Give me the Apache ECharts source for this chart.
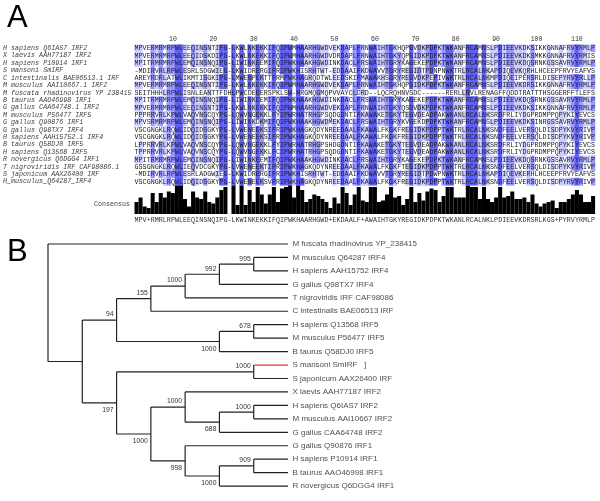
<!DOCTYPE html>
<html><head><meta charset="utf-8">
<script src="https://cdn.jsdelivr.net/npm/echarts@6/dist/echarts.min.js"></script>
<style>html,body{margin:0;padding:0;background:#fff}#c{width:600px;height:501px}</style>
</head><body><div id="c"></div>
<script>
// ---------- Panel A data ----------
const seqNames = [
  'H sapiens Q6IAS7 IRF2','X laevis AAH77187 IRF2','H sapiens P10914 IRF1','S mansoni SmIRF',
  'C intestinalis BAE06513.1 IRF','M musculus AAI10667.1 IRF2','M fuscata rhadinovirus YP 238415',
  'B taurus AAO46998 IRF1','G gallus CAA64748.1 IRF2','M musculus P56477 IRF5','G gallus Q90876 IRF1',
  'G gallus Q98TX7 IRF4','H sapiens AAH15752.1 IRF4','B taurus Q58DJ0 IRF5','H sapiens Q13568 IRF5',
  'R novergicus Q6DGG4 IRF1','T nigroviridis IRF CAF98086.1','S japonicum AAX26400 IRF','H_musculus_Q64287_IRF4'
];
const seqs = [
  'MPVERMRMRPWLEEQINSNTIPG'+'-'+'LKWLNKEKKIFQIPWMHAARHGWDVEKDAPLFRNWAIHTG'+'KHQPGVDKPDPKTWKANFRCAMNSLPDIEEVKDKSIKKGNNAFRVYRMLP',
  'MPVERMRMRPWLEEQIDSKDIPG'+'-'+'LKWLNKEKKIFQIPWMHAARHGWDVDRDAPLFRNWAIHTG'+'KYQPGIDKPDPKTWKANFRCAMNSLPDIEEVKDKSMKKGNNAFRVYRMIS',
  'MPITRMRMRPWLEMQINSNQIPG'+'-'+'LIWINKEEMIFQIPWKHAAKHGWDINKDACLFRSWAIHTG'+'RYKAGEKEPDPKTWKANFRCAMNSLPDIEEVKDQSRNKGSSAVRVYRMLP',
  '-MDIRVRLRPWLESRLSDGWIEG'+'-'+'LKWIDRERGIFRIPWKHISRHTWT-EDDAAIFKDWAVVTG'+'RYREGIDTPDNPNWKTRLRCALNKAPDIQEVKQRHLHCEEPFRVYEAFVS',
  'AREYRDRLATWLIKMTISGKIPG'+'-'+'LMWENPEKTTFRMPWKHAGRQDTWLEEDSKIFMAWAKHSG'+'RYREGVDKPEPIVWKTRLRCALNKMPDIQEIPERSRLDISEPYRVYRLLP',
  'MPVERMRMRPWLEEQINSNTIPG'+'-'+'LKWLNKEKKIFQIPWMHAARHGWDVEKDAPLFRNWAIHTG'+'KHQPGIDKPDPKTWKANFRCAMNSLPDIEEVKDRSIKKGNNAFRVYRMLP',
  'SEITHHHLRPWLISNLEANTTFD'+'H'+'LPWCDEEERSPKLSW-HRGMQGMQPVVAYCLDRD--LQCR'+'QHNVSDC------RERLLRVLRENAGFFQDDTRATTTHSGGERFFTLEFS',
  'MPITRMRMRPWLEMQINSNQIPG'+'-'+'LIWINKEEMIFQIPWKHAAKHGWDINKDACLFRSWAIHTG'+'RYKAGEKEPDPKTWKANFRCAMNSLPDIEEVKDQSRNKGSSAVRVYRMLP',
  'MPVERMRMRPWLEEQINSNTIPG'+'-'+'LKWLNKEKKIFQIPWMHAARHGWDVEKDAPLFRNWAIHTG'+'KYQSGVDKPDPKTWKANFRCAMNSLPDIEEVKDKSIKKGNNAFRVYRMLP',
  'PPPRRVRLKPWLVAQVNSCQYPG'+'-'+'LQWVNGEKKLFYIPWRHATRHGPSQDGDNTIFKAWAKETG'+'KYTEGVDEADPAKWKANLRCALNKSRDFRLIYDGPRDMPPQPYKIYEVCS',
  'MPVSRMRMRPWLEMQINSNQIPG'+'-'+'LIWINKDKMIFQIPWKHAAKHGWDMEKDACLFRSWAIHTG'+'RYKVGEKDPDPKTWKANFRCAMNSLPDIEEVKDKSINRGSSAVRVYRMLP',
  'VSCGNGKLRQWLIDQIDSGKYPG'+'-'+'LVWENEEKSIFRIPWKHAGKQDYNREEDAALFKAWALFKG'+'KFREGIDKPDPPTWKTRLRCALNKSNDFEELVERSQLDISDPYKVYRIVP',
  'VSCGNGKLRQWLIDQIDSGKYPG'+'-'+'LVWENEEKSIFRIPWKHAGKQDYNREEDAALFKAWALFKG'+'KFREGIDKPDPPTWKTRLRCALNKSNDFEELVERSQLDISDPYKVYRIVP',
  'LPPRRVRLKPWLVAQVNSCQYPG'+'-'+'LQWVNGEKKLFYIPWRHATRHGPSHDGDNTIFKAWAKETG'+'KYTEGVDEADPAKWKANLRCALNKSRDFRLIYDGPRDMPPQPYKIYEVCS',
  'TPPRRVRLKPWLVAQVNSCQYPG'+'-'+'LQWVNGEKKLFCIPWRHATRHGPSQDGDNTIFKAWAKETG'+'KYTEGVDEADPAKWKANLRCALNKSRDFRLIYDGPRDMPPQPYKIYEVCS',
  'MPITRMRMRPWLEMQINSNQIPG'+'-'+'LIWINKEEMIFQIPWKHAAKHGWDINKDACLFRSWAIHTG'+'RYKAGEKEPDPKTWKANFRCAMNSLPDIEEVKDQSRNKGSSAVRVYRMLP',
  'GSSGNGKLRQWLIEQVDCGKYPG'+'-'+'LVWENEEKTIFRIPWKHAGKQDYNREEDAALFKAWALFKG'+'KFTEGIDKPDPPTWKTRLRCALNKSNDFEELVERSQLDISDPYKVYRIVP',
  '-MDIRVRLRPWLESRLADGWIEG'+'-'+'LKWIDRERGIFRIPWKHISRHTWT-EDDAAIFKDWAVVTG'+'RYREGIDTPDWPNWKTRLRCALNKAPDIQEVKERHLHCEEPFRVYEAFVS',
  'VSCGNGKLRQWLIDQIDSGKYPG'+'-'+'LVWENEEKSVFRIPWKHAGKQDYNREEDAALFKAWALFKG'+'KFREGIDKPDPPTWKTRLRCALNKSNDFEELVERSQLDISDPYRVYRIVP'
];
const consensusSeq = 'MPV+RMRLRPWLEEQINSNQIPG-LKWINKEKKIFQIPWKHAARHGWD+EKDAALF+AWAIHTGKYREGIDKPDPKTWKANLRCALNKLPDIEEVKDRSRLKGS+PYRVYRMLP';
const rulerStep = 10;
const pidThresholds = [80, 60, 40];
const pidColours = ['#5f5ffa', '#9999ff', '#ccccff'];

// ---------- Panel B data ----------
const leafLabels = [
  'M fuscata rhadinovirus YP_238415','M musculus Q64287 IRF4','H sapiens AAH15752 IRF4','G gallus Q98TX7 IRF4',
  'T nigroviridis IRF CAF98086','C intestinalis BAE06513 IRF','H sapiens Q13568 IRF5','M musculus P56477 IRF5',
  'B taurus Q58DJ0 IRF5','S mansoni SmIRF   ]','S japonicum AAX26400 IRF','X laevis AAH77187 IRF2',
  'H sapiens Q6IAS7 IRF2','M musculus AAI10667 IRF2','G gallus CAA64748 IRF2','G gallus Q90876 IRF1',
  'H sapiens P10914 IRF1','B taurus AAO46998 IRF1','R novergicus Q6DGG4 IRF1'
];
// [id, depth, firstChild, secondChild, bootstrap]
const treeNodes = [
  ['root',0,'L0','A',null], ['A',1,'B','I',null], ['B',2,'C','G',94], ['C',3,'D','L5',155],
  ['D',4,'E','L4',1000], ['E',5,'F','L3',992], ['F',6,'L1','L2',995], ['G',5,'H','L8',1000],
  ['H',6,'L6','L7',678], ['I',2,'J','K',197], ['J',6,'L9','L10',1000], ['K',3,'L','M',1000],
  ['L',4,'L11','N',1000], ['N',5,'O','L14',688], ['O',6,'L12','L13',1000], ['M',4,'L15','P',998],
  ['P',5,'Q','L18',1000], ['Q',6,'L16','L17',909]
];
const leafDepth = 7;
const redLeaf = 'L9';

// ---------- derived ----------
const NC = 114, NR = seqs.length;
const rows = seqs.map(s => s.padEnd(NC, '-').slice(0, NC));
const colPct = [], colMax = [];
for (let c = 0; c < NC; c++) {
  const f = {};
  rows.forEach(r => { f[r[c]] = (f[r[c]] || 0) + 1; });
  let m = 0; Object.values(f).forEach(v => { if (v > m) m = v; });
  const maxs = Object.keys(f).filter(k => f[k] === m);
  colMax.push(maxs);
  colPct.push(maxs.indexOf('-') >= 0 ? 0 : m * 100 / NR);
}
function cellColor(r, c) {
  const ch = rows[r][c];
  if (ch === '-' || colMax[c].indexOf(ch) < 0) return null;
  for (let i = 0; i < pidThresholds.length; i++) if (colPct[c] > pidThresholds[i]) return pidColours[i];
  return null;
}
const cells = [];
for (let r = 0; r < NR; r++) for (let c = 0; c < NC; c++) cells.push([c, r]);
const colCats = Array.from({length: NC}, (_, i) => String(i + 1));

// tree layout
const nodeMap = {};
treeNodes.forEach(n => nodeMap[n[0]] = n);
const pos = {};
function place(id) {
  if (id[0] === 'L' && !nodeMap[id]) { const i = +id.slice(1); pos[id] = [leafDepth, i]; return pos[id]; }
  const n = nodeMap[id];
  const a = place(n[2]), b = place(n[3]);
  pos[id] = [n[1], (a[1] + b[1]) / 2];
  return pos[id];
}
place('root');
const segs = [], boots = [];
treeNodes.forEach(n => {
  const p = pos[n[0]], a = pos[n[2]], b = pos[n[3]];
  segs.push([p[0], a[1], p[0], b[1], 0]);
  segs.push([p[0], a[1], a[0], a[1], n[2] === redLeaf ? 1 : 0]);
  segs.push([p[0], b[1], b[0], b[1], n[3] === redLeaf ? 1 : 0]);
  [n[2], n[3]].forEach((ch, k) => {
    const cn = nodeMap[ch];
    if (cn && cn[4] != null) boots.push({x: pos[ch][0], y: pos[ch][1], t: String(cn[4]), above: k === 0});
  });
});

const chart = echarts.init(document.getElementById('c'), null, {renderer: 'canvas'});
const mono = '"Liberation Mono", "DejaVu Sans Mono", monospace';
const sans = '"Liberation Sans", Arial, sans-serif';
chart.setOption({
  animation: false,
  title: [
    {text: 'A', left: 7, top: 3, padding: 0, textStyle: {fontSize: 31, fontWeight: 'normal', fontFamily: sans, color: '#000'}},
    {text: 'B', left: 7, top: 237, padding: 0, textStyle: {fontSize: 31, fontWeight: 'normal', fontFamily: sans, color: '#000'}},
    {text: 'Consensus', left: 94, top: 201, padding: 0, textStyle: {fontSize: 6.7, fontWeight: 'normal', fontFamily: mono, color: '#444'}}
  ],
  grid: [
    {left: 134.5, top: 44.6, width: 460.6, height: 140.8},
    {left: 134.5, top: 185.5, width: 460.6, height: 28.5},
    {left: 48, top: 244, width: 240, height: 242.1}
  ],
  xAxis: [
    {gridIndex: 0, type: 'category', data: colCats, position: 'top', axisLine: {show: false}, axisTick: {show: false},
     axisLabel: {interval: i => (i + 1) % rulerStep === 0, margin: 2, fontFamily: mono, fontSize: 6.5, color: '#333'}},
    {gridIndex: 1, type: 'category', data: colCats, axisLine: {show: false}, axisTick: {show: false},
     axisLabel: {interval: 0, margin: 3, fontFamily: mono, fontSize: 6.7, color: '#333', formatter: (v, i) => consensusSeq[i]}},
    {gridIndex: 2, type: 'value', min: 0, max: leafDepth, show: false}
  ],
  yAxis: [
    {gridIndex: 0, type: 'category', data: seqNames, inverse: true, axisLine: {show: false}, axisTick: {show: false},
     axisLabel: {interval: 0, align: 'left', margin: 131.5, fontFamily: mono, fontStyle: 'italic', fontSize: 6.7, color: '#444'}},
    {gridIndex: 1, type: 'value', min: 0, max: 100, show: false},
    {gridIndex: 2, type: 'value', min: 0, max: NR - 1, inverse: true, show: false}
  ],
  series: [
    {type: 'custom', xAxisIndex: 0, yAxisIndex: 0, data: cells, silent: true,
     renderItem: (params, api) => {
       const c = api.value(0), r = api.value(1);
       const p = api.coord([c, r]);
       const w = api.size([1, 0])[0], h = api.size([0, 1])[1];
       const col = cellColor(r, c);
       const kids = [];
       if (col) kids.push({type: 'rect', shape: {x: p[0] - w / 2 - 0.2, y: p[1] - h / 2 - 0.2, width: w + 0.4, height: h + 0.4}, style: {fill: col}});
       kids.push({type: 'text', style: {text: rows[r][c], x: p[0], y: p[1] + 0.3, align: 'center', verticalAlign: 'middle', font: '6.7px ' + mono, fill: '#1a1a1a'}});
       return {type: 'group', children: kids};
     }},
    {type: 'bar', xAxisIndex: 1, yAxisIndex: 1, data: colPct, barCategoryGap: '0%', itemStyle: {color: '#000'}, silent: true},
    {type: 'custom', xAxisIndex: 2, yAxisIndex: 2, data: segs.map(s => [s[0], s[1], s[2], s[3]]), silent: true,
     encode: {x: [0, 2], y: [1, 3]},
     renderItem: (params, api) => {
       const s = segs[params.dataIndex];
       const a = api.coord([s[0], s[1]]), b = api.coord([s[2], s[3]]);
       return {type: 'line', shape: {x1: a[0], y1: a[1], x2: b[0], y2: b[1]},
               style: {stroke: s[4] ? '#ee3333' : '#222', lineWidth: 1.2}};
     }},
    {type: 'scatter', xAxisIndex: 2, yAxisIndex: 2, symbolSize: 0, silent: true,
     data: leafLabels.map((t, i) => [leafDepth, i]),
     label: {show: true, position: 'right', distance: 4.5, fontFamily: sans, fontSize: 8, color: '#1a1a1a',
             formatter: p => leafLabels[p.dataIndex]}},
    {type: 'custom', xAxisIndex: 2, yAxisIndex: 2, data: boots.map(b => [b.x, b.y]), silent: true,
     renderItem: (params, api) => {
       const b = boots[params.dataIndex];
       const p = api.coord([b.x, b.y]);
       return {type: 'text', style: {text: b.t, x: p[0] - 3, y: p[1] + (b.above ? -5.5 : 7.3), align: 'right', verticalAlign: 'middle',
               font: '6.8px ' + sans, fill: '#333'}};
     }}
  ]
});
</script></body></html>
